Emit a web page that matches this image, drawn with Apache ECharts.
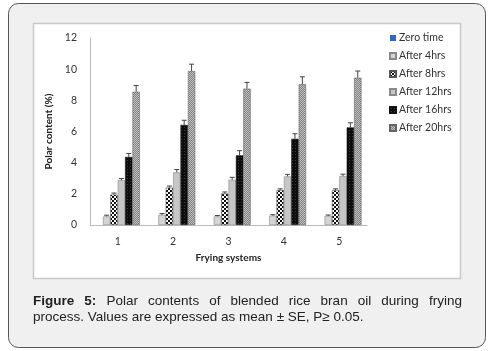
<!DOCTYPE html>
<html><head><meta charset="utf-8">
<script src="https://cdn.jsdelivr.net/npm/echarts@6/dist/echarts.min.js"></script>
<style>html,body{margin:0;padding:0;background:#fff}#c{width:498px;height:351px}</style>
</head><body><div id="c"></div>
<script>
const categories = ['1','2','3','4','5'];
const seriesNames = ['Zero time','After 4hrs','After 8hrs','After 12hrs','After 16hrs','After 20hrs'];
const zeroTime  = [0, 0, 0, 0, 0];
const after4    = [0.55, 0.65, 0.55, 0.6, 0.58];
const after8    = [1.95, 2.4, 2.02, 2.24, 2.24];
const after12   = [2.88, 3.38, 2.9, 3.12, 3.14];
const after16   = [4.37, 6.42, 4.47, 5.53, 6.26];
const after20   = [8.55, 9.88, 8.75, 9.03, 9.45];
const err4      = [0.08, 0.08, 0.06, 0.06, 0.06];
const err8      = [0.1, 0.1, 0.1, 0.08, 0.08];
const err12     = [0.1, 0.18, 0.16, 0.13, 0.12];
const err16     = [0.22, 0.3, 0.3, 0.33, 0.3];
const err20     = [0.4, 0.44, 0.4, 0.48, 0.43];
const yTicks = [0, 2, 4, 6, 8, 10, 12];
const captionLine1Bold = ['Figure', '5:'];
const captionLine1 = ['Polar', 'contents', 'of', 'blended', 'rice', 'bran', 'oil', 'during', 'frying'];
const captionLine2 = 'process. Values are expressed as mean ± SE, P≥ 0.05.';

function pattern(w, h, draw) {
  const c = document.createElement('canvas'); c.width = w; c.height = h;
  const g = c.getContext('2d'); draw(g);
  return { image: c, repeat: 'repeat' };
}
const pat8 = pattern(4, 4, g => { g.fillStyle = '#fff'; g.fillRect(0,0,4,4); g.fillStyle = '#111'; g.fillRect(0,0,2,2); g.fillRect(2,2,2,2); });
const pat16 = pattern(3, 3, g => { g.fillStyle = '#0d0d0d'; g.fillRect(0,0,3,3); g.fillStyle = '#3a3a3a'; g.fillRect(1,1,1,1); });
const pat20 = pattern(2, 2, g => { g.fillStyle = '#858585'; g.fillRect(0,0,2,2); g.fillStyle = '#bdbdbd'; g.fillRect(0,0,1,1); g.fillRect(1,1,1,1); });

const values = [zeroTime, after4, after8, after12, after16, after20];
const errs = [null, err4, err8, err12, err16, err20];
const fills = ['#3366cc', '#d4d4d4', pat8, '#c6c6c6', pat16, pat20];
const borders = ['#3366cc', '#8a8a8a', '#555', '#8a8a8a', '#111', '#666'];
const bwidths = [0, 0.6, 0.6, 0.6, 0.6, 0.6];
const nBars = 6, catGap = 0.2;

const series = [];
values.forEach((v, i) => {
  series.push({
    name: seriesNames[i], type: 'bar', data: v, barGap: '0%', barCategoryGap: '20%',
    itemStyle: { color: fills[i], borderColor: borders[i], borderWidth: bwidths[i] }
  });
});
errs.forEach((e, i) => {
  if (!e) return;
  series.push({
    type: 'custom', name: seriesNames[i] + ' err', silent: true, z: 5,
    data: values[i].map((v, k) => [k, v, e[k]]),
    renderItem: (params, api) => {
      const k = api.value(0), v = api.value(1), er = api.value(2);
      const catW = api.size([1, 0])[0];
      const bw = catW * (1 - catGap) / nBars;
      const base = api.coord([k, v]);
      const top = api.coord([k, v + er]);
      const x = base[0] - catW * (1 - catGap) / 2 + (i + 0.5) * bw;
      return { type: 'group', children: [
        { type: 'line', shape: { x1: x, y1: base[1], x2: x, y2: top[1] }, style: { stroke: '#444', lineWidth: 1 } },
        { type: 'line', shape: { x1: x - 2.5, y1: top[1], x2: x + 2.5, y2: top[1] }, style: { stroke: '#444', lineWidth: 1 } }
      ]};
    }
  });
});

// justified first caption line
const capFont = '13.5px "Liberation Sans", Arial';
const capFontB = 'bold 13.5px "Liberation Sans", Arial';
const mc = document.createElement('canvas').getContext('2d');
const words = captionLine1Bold.map(w => ({ w, bold: true })).concat(captionLine1.map(w => ({ w, bold: false })));
let total = 0;
words.forEach(o => { mc.font = o.bold ? capFontB : capFont; o.width = mc.measureText(o.w).width; total += o.width; });
const capLeft = 33, capRight = 462;
const space = (capRight - capLeft - total) / (words.length - 1);
const capGraphics = [];
let cx = capLeft;
words.forEach(o => {
  capGraphics.push({ type: 'text', x: cx, y: 294, style: { text: o.w, font: o.bold ? capFontB : capFont, fill: '#222' } });
  cx += o.width + space;
});
capGraphics.push({ type: 'text', x: capLeft, y: 310, style: { text: captionLine2, font: capFont, fill: '#222' } });

const chart = echarts.init(document.getElementById('c'), null, { renderer: 'canvas' });
chart.setOption({
  animation: false,
  backgroundColor: '#fff',
  graphic: [
    { type: 'rect', z: -10, shape: { x: 8.5, y: 3.5, width: 477, height: 344, r: 10 }, style: { fill: '#f0f0f0', stroke: '#555', lineWidth: 1 } },
    { type: 'rect', z: -9, shape: { x: 33.5, y: 23.5, width: 427, height: 255 }, style: { fill: '#fff', stroke: '#c8c8c8', lineWidth: 1.5 } }
  ].concat(capGraphics),
  grid: { left: 90, right: 131, top: 38, bottom: 126 },
  legend: {
    data: seriesNames, orient: 'vertical', left: 384, top: 27,
    itemWidth: 6, itemHeight: 6, itemGap: 6,
    textStyle: { fontFamily: 'Lato', fontSize: 10.5, color: '#333', lineHeight: 12, padding: [0, 0, 0, -2] },
    icon: 'rect'
  },
  xAxis: {
    type: 'category', data: categories,
    axisLine: { lineStyle: { color: '#bcbcbc' } }, axisTick: { show: false },
    axisLabel: { fontFamily: 'Lato', fontSize: 10.5, color: '#333', margin: 11 },
    name: 'Frying systems', nameLocation: 'middle', nameGap: 28,
    nameTextStyle: { fontFamily: 'Lato', fontWeight: 'bold', fontSize: 10, color: '#222' }
  },
  yAxis: {
    type: 'value', min: yTicks[0], max: yTicks[yTicks.length - 1], interval: 2,
    splitLine: { show: false },
    axisLine: { show: true, lineStyle: { color: '#bcbcbc' } }, axisTick: { show: false },
    axisLabel: { fontFamily: 'Lato', fontSize: 10.5, color: '#333', margin: 13 },
    name: 'Polar content (%)', nameLocation: 'middle', nameGap: 31,
    nameTextStyle: { fontFamily: 'Lato', fontWeight: 'bold', fontSize: 10, color: '#222' }
  },
  series: series
});
</script></body></html>
